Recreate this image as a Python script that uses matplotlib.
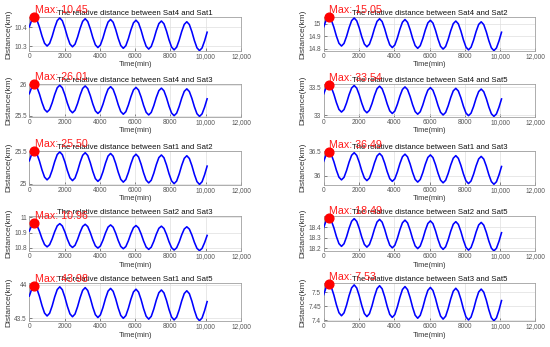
import matplotlib
matplotlib.use('Agg')
import matplotlib.pyplot as plt

plt.rcParams['font.family'] = ['Liberation Sans', 'DejaVu Sans']

# sampling grid (minutes), one week
time_min = list(range(0, 10081, 144))

d_sat4_sat1 = [
    10.4015, 10.4383, 10.4521, 10.4375, 10.3999, 10.3535, 10.3159, 10.3013, 10.3151, 10.3519,
    10.3975, 10.4343, 10.4481, 10.4335, 10.3959, 10.3495, 10.3119, 10.2973, 10.3111, 10.3479,
    10.3935, 10.4303, 10.4441, 10.4295, 10.3919, 10.3455, 10.3079, 10.2933, 10.3071, 10.3439,
    10.3896, 10.4264, 10.4402, 10.4256, 10.3880, 10.3416, 10.3040, 10.2894, 10.3032, 10.3400,
    10.3856, 10.4224, 10.4362, 10.4216, 10.3840, 10.3376, 10.3000, 10.2854, 10.2992, 10.3360,
    10.3816, 10.4184, 10.4322, 10.4176, 10.3800, 10.3336, 10.2960, 10.2814, 10.2952, 10.3320,
    10.3776, 10.4144, 10.4282, 10.4136, 10.3760, 10.3296, 10.2920, 10.2774, 10.2912, 10.3280,
    10.3736]

d_sat4_sat2 = [
    14.9746, 15.0310, 15.0521, 15.0297, 14.9722, 14.9011, 14.8435, 14.8212, 14.8423, 14.8987,
    14.9685, 15.0249, 15.0460, 15.0236, 14.9661, 14.8950, 14.8374, 14.8151, 14.8362, 14.8926,
    14.9624, 15.0188, 15.0399, 15.0175, 14.9600, 14.8889, 14.8313, 14.8090, 14.8301, 14.8865,
    14.9563, 15.0127, 15.0338, 15.0114, 14.9539, 14.8828, 14.8252, 14.8029, 14.8240, 14.8804,
    14.9502, 15.0066, 15.0277, 15.0053, 14.9478, 14.8767, 14.8191, 14.7968, 14.8179, 14.8743,
    14.9441, 15.0005, 15.0216, 14.9992, 14.9417, 14.8706, 14.8130, 14.7907, 14.8118, 14.8682,
    14.9380, 14.9944, 15.0155, 14.9931, 14.9356, 14.8645, 14.8069, 14.7846, 14.8057, 14.8621,
    14.9319]

d_sat4_sat3 = [
    25.8587, 25.9674, 26.0082, 25.9651, 25.8540, 25.7170, 25.6060, 25.5629, 25.6037, 25.7123,
    25.8469, 25.9556, 25.9964, 25.9533, 25.8422, 25.7052, 25.5942, 25.5511, 25.5919, 25.7005,
    25.8352, 25.9439, 25.9847, 25.9416, 25.8305, 25.6935, 25.5825, 25.5394, 25.5802, 25.6888,
    25.8234, 25.9321, 25.9729, 25.9298, 25.8187, 25.6817, 25.5707, 25.5276, 25.5684, 25.6770,
    25.8117, 25.9204, 25.9612, 25.9181, 25.8070, 25.6700, 25.5590, 25.5159, 25.5567, 25.6653,
    25.7999, 25.9086, 25.9494, 25.9063, 25.7952, 25.6582, 25.5472, 25.5041, 25.5449, 25.6535,
    25.7882, 25.8969, 25.9377, 25.8946, 25.7835, 25.6465, 25.5355, 25.4924, 25.5332, 25.6418,
    25.7764]

d_sat4_sat5 = [
    33.3779, 33.4959, 33.5402, 33.4934, 33.3728, 33.2240, 33.1034, 33.0565, 33.1008, 33.2189,
    33.3651, 33.4831, 33.5274, 33.4806, 33.3600, 33.2112, 33.0906, 33.0437, 33.0880, 33.2061,
    33.3524, 33.4704, 33.5147, 33.4679, 33.3473, 33.1985, 33.0779, 33.0310, 33.0753, 33.1934,
    33.3396, 33.4576, 33.5019, 33.4551, 33.3345, 33.1857, 33.0651, 33.0182, 33.0625, 33.1806,
    33.3268, 33.4448, 33.4891, 33.4423, 33.3217, 33.1729, 33.0523, 33.0054, 33.0497, 33.1678,
    33.3141, 33.4321, 33.4764, 33.4296, 33.3090, 33.1602, 33.0396, 32.9927, 33.0370, 33.1551,
    33.3013, 33.4193, 33.4636, 33.4168, 33.2962, 33.1474, 33.0268, 32.9799, 33.0242, 33.1423,
    33.2885]

d_sat1_sat2 = [
    25.3555, 25.4629, 25.5032, 25.4606, 25.3508, 25.2155, 25.1057, 25.0631, 25.1034, 25.2108,
    25.3439, 25.4513, 25.4916, 25.4490, 25.3392, 25.2039, 25.0941, 25.0515, 25.0918, 25.1992,
    25.3323, 25.4397, 25.4800, 25.4374, 25.3276, 25.1923, 25.0825, 25.0399, 25.0802, 25.1876,
    25.3207, 25.4281, 25.4684, 25.4258, 25.3160, 25.1807, 25.0709, 25.0283, 25.0686, 25.1760,
    25.3090, 25.4164, 25.4567, 25.4141, 25.3043, 25.1690, 25.0592, 25.0166, 25.0569, 25.1643,
    25.2974, 25.4048, 25.4451, 25.4025, 25.2927, 25.1574, 25.0476, 25.0050, 25.0453, 25.1527,
    25.2858, 25.3932, 25.4335, 25.3909, 25.2811, 25.1458, 25.0360, 24.9934, 25.0337, 25.1411,
    25.2742]

d_sat1_sat3 = [
    36.2972, 36.4376, 36.4903, 36.4346, 36.2911, 36.1142, 35.9708, 35.9151, 35.9677, 36.1081,
    36.2820, 36.4224, 36.4751, 36.4194, 36.2759, 36.0990, 35.9556, 35.8999, 35.9525, 36.0929,
    36.2668, 36.4072, 36.4599, 36.4042, 36.2607, 36.0838, 35.9404, 35.8847, 35.9373, 36.0777,
    36.2517, 36.3921, 36.4448, 36.3891, 36.2456, 36.0687, 35.9253, 35.8696, 35.9222, 36.0626,
    36.2365, 36.3769, 36.4296, 36.3739, 36.2304, 36.0535, 35.9101, 35.8544, 35.9070, 36.0474,
    36.2213, 36.3617, 36.4144, 36.3587, 36.2152, 36.0383, 35.8949, 35.8392, 35.8918, 36.0322,
    36.2061, 36.3465, 36.3992, 36.3435, 36.2000, 36.0231, 35.8797, 35.8240, 35.8766, 36.0170,
    36.1909]

d_sat2_sat3 = [
    10.9097, 10.9478, 10.9621, 10.9470, 10.9081, 10.8601, 10.8212, 10.8061, 10.8204, 10.8584,
    10.9056, 10.9437, 10.9580, 10.9429, 10.9040, 10.8560, 10.8171, 10.8020, 10.8163, 10.8543,
    10.9015, 10.9396, 10.9539, 10.9388, 10.8999, 10.8519, 10.8130, 10.7979, 10.8122, 10.8502,
    10.8973, 10.9354, 10.9497, 10.9346, 10.8957, 10.8477, 10.8088, 10.7937, 10.8080, 10.8460,
    10.8932, 10.9313, 10.9456, 10.9305, 10.8916, 10.8436, 10.8047, 10.7896, 10.8039, 10.8419,
    10.8891, 10.9272, 10.9415, 10.9264, 10.8875, 10.8395, 10.8006, 10.7855, 10.7998, 10.8378,
    10.8850, 10.9231, 10.9374, 10.9223, 10.8834, 10.8354, 10.7965, 10.7814, 10.7957, 10.8337,
    10.8809]

d_sat2_sat5 = [
    18.3995, 18.4654, 18.4901, 18.4640, 18.3966, 18.3135, 18.2461, 18.2200, 18.2447, 18.3106,
    18.3924, 18.4583, 18.4830, 18.4569, 18.3895, 18.3064, 18.2390, 18.2129, 18.2376, 18.3035,
    18.3852, 18.4511, 18.4758, 18.4497, 18.3823, 18.2992, 18.2318, 18.2057, 18.2304, 18.2963,
    18.3781, 18.4440, 18.4687, 18.4426, 18.3752, 18.2921, 18.2247, 18.1986, 18.2233, 18.2892,
    18.3710, 18.4369, 18.4616, 18.4355, 18.3681, 18.2850, 18.2176, 18.1915, 18.2162, 18.2821,
    18.3638, 18.4297, 18.4544, 18.4283, 18.3609, 18.2778, 18.2104, 18.1843, 18.2090, 18.2749,
    18.3567, 18.4226, 18.4473, 18.4212, 18.3538, 18.2707, 18.2033, 18.1772, 18.2019, 18.2678,
    18.3496]

d_sat1_sat5 = [
    43.8296, 43.9391, 43.9802, 43.9367, 43.8248, 43.6868, 43.5749, 43.5314, 43.5725, 43.6820,
    43.8178, 43.9273, 43.9684, 43.9249, 43.8130, 43.6750, 43.5631, 43.5196, 43.5607, 43.6702,
    43.8059, 43.9154, 43.9565, 43.9130, 43.8011, 43.6631, 43.5512, 43.5077, 43.5488, 43.6583,
    43.7941, 43.9036, 43.9447, 43.9012, 43.7893, 43.6513, 43.5394, 43.4959, 43.5370, 43.6465,
    43.7822, 43.8917, 43.9328, 43.8893, 43.7774, 43.6394, 43.5275, 43.4840, 43.5251, 43.6346,
    43.7704, 43.8799, 43.9210, 43.8775, 43.7656, 43.6276, 43.5157, 43.4722, 43.5133, 43.6228,
    43.7585, 43.8680, 43.9091, 43.8656, 43.7537, 43.6157, 43.5038, 43.4603, 43.5014, 43.6109,
    43.7467]

d_sat3_sat5 = [
    7.4917, 7.5196, 7.5301, 7.5190, 7.4905, 7.4554, 7.4269, 7.4159, 7.4263, 7.4542,
    7.4887, 7.5166, 7.5271, 7.5160, 7.4875, 7.4524, 7.4239, 7.4129, 7.4233, 7.4512,
    7.4857, 7.5136, 7.5241, 7.5130, 7.4845, 7.4494, 7.4209, 7.4099, 7.4203, 7.4482,
    7.4827, 7.5106, 7.5211, 7.5100, 7.4815, 7.4464, 7.4179, 7.4069, 7.4173, 7.4452,
    7.4796, 7.5075, 7.5180, 7.5069, 7.4784, 7.4433, 7.4148, 7.4038, 7.4142, 7.4421,
    7.4766, 7.5045, 7.5150, 7.5039, 7.4754, 7.4403, 7.4118, 7.4008, 7.4112, 7.4391,
    7.4736, 7.5015, 7.5120, 7.5009, 7.4724, 7.4373, 7.4088, 7.3978, 7.4082, 7.4361,
    7.4706]

pairs = ["Sat4 and Sat1", "Sat4 and Sat2", "Sat4 and Sat3", "Sat4 and Sat5",
         "Sat1 and Sat2", "Sat1 and Sat3", "Sat2 and Sat3", "Sat2 and Sat5",
         "Sat1 and Sat5", "Sat3 and Sat5"]
series = [d_sat4_sat1, d_sat4_sat2, d_sat4_sat3, d_sat4_sat5,
          d_sat1_sat2, d_sat1_sat3, d_sat2_sat3, d_sat2_sat5,
          d_sat1_sat5, d_sat3_sat5]
y_ticks = [[10.3, 10.4], [14.8, 14.9, 15], [25.5, 26], [33, 33.5],
           [25, 25.5], [36, 36.5], [10.8, 10.9, 11], [18.2, 18.3, 18.4],
           [43.5, 44], [7.4, 7.45, 7.5]]
y_lims = [(10.277, 10.453), (14.784, 15.054), (25.491, 26.011), (32.978, 33.548),
          (24.992, 25.506), (35.82, 36.51), (10.779, 11.008), (18.176, 18.508),
          (43.456, 44.03), (7.397, 7.535)]
x_ticks = [0, 2000, 4000, 6000, 8000, 10000, 12000]
x_tick_labels = ['0', '2000', '4000', '6000', '8000', '10,000', '12,000']

W, H = 550, 347
fig = plt.figure(figsize=(W / 100, H / 100), dpi=100)

col_left_px = [29.3, 323.7]
ax_w_px = 211.7
rows_px = [(17.0, 50.7), (84.3, 116.5), (151.0, 184.5), (216.0, 251.0), (282.7, 321.0)]

for i, (pair, vals) in enumerate(zip(pairs, series)):
    row, col = i // 2, i % 2
    top, bot = rows_px[row]
    ax = fig.add_axes([col_left_px[col] / W, 1 - bot / H, ax_w_px / W, (bot - top) / H])
    ax.plot(time_min, vals, color='#0000ff', lw=1.15, zorder=3)
    imax = max(range(len(vals)), key=lambda k: vals[k])
    tm, vm = time_min[imax], vals[imax]
    ax.plot([tm], [vm], 'o', color='#ff0000', ms=6.3, clip_on=False, zorder=5)
    ax.annotate(f'Max: {vm:.2f}', (tm, vm), xytext=(0.3, 3.0), textcoords='offset points',
                color='#ff1a1a', fontsize=7.7, ha='left', va='baseline',
                annotation_clip=False, zorder=4)
    ax.set_xlim(0, 12000)
    ax.set_ylim(*y_lims[i])
    ax.set_xticks(x_ticks)
    ax.set_xticklabels(x_tick_labels)
    ax.set_yticks(y_ticks[i])
    ax.set_yticklabels([f'{v:g}' for v in y_ticks[i]])
    ax.grid(True, color='#dedede', lw=0.5)
    ax.set_axisbelow(True)
    ax.tick_params(direction='in', length=2, width=0.5, labelsize=4.7,
                   colors='#555555', pad=1.8)
    for sp in ax.spines.values():
        sp.set_color('#a0a0a0')
        sp.set_linewidth(0.6)
    ax.set_title(f'The relative distance between {pair}', fontsize=5.6, pad=1.5, color='#111111')
    ax.set_xlabel('Time(min)', fontsize=5.4, labelpad=0.8, color='#333333')
    ax.set_ylabel('Distance(km)', fontsize=6.0, labelpad=1.3, color='#333333')

fig.savefig('out.png', dpi=100)
